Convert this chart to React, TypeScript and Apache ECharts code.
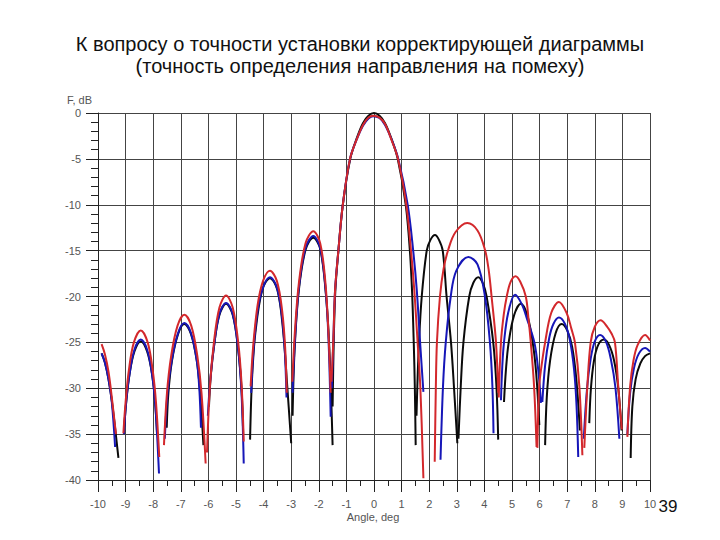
import React, { useEffect, useRef } from "react";
import * as echarts from "echarts";

const titleLines = [
  "К вопросу о точности установки корректирующей диаграммы",
  "(точность определения направления на помеху)",
];
const xTicks = [-10, -9, -8, -7, -6, -5, -4, -3, -2, -1, 0, 1, 2, 3, 4, 5, 6, 7, 8, 9, 10];
const yTicks = [0, -5, -10, -15, -20, -25, -30, -35, -40];

// Each series is a list of lobes; each lobe is a list of [angle, dB] points.
const blackLobes: number[][][] = [
  [[-9.87, -26.2], [-9.75, -27.2], [-9.62, -29.0], [-9.48, -31.8], [-9.26, -37.6]],
  [[-9.05, -34.2], [-8.97, -31.3], [-8.86, -28.5], [-8.68, -26.0], [-8.45, -24.9], [-8.22, -26.0], [-8.04, -28.5], [-7.93, -31.5], [-7.86, -35.0]],
  [[-7.51, -34.3], [-7.45, -30.5], [-7.32, -27.0], [-7.1, -24.1], [-6.87, -23.0], [-6.63, -24.1], [-6.42, -27.0], [-6.3, -30.5], [-6.18, -36.2]],
  [[-5.98, -32.0], [-5.91, -28.5], [-5.77, -24.8], [-5.6, -22.0], [-5.36, -20.8], [-5.12, -22.0], [-4.93, -25.5], [-4.8, -30.0], [-4.74, -35.0]],
  [[-4.49, -35.6], [-4.42, -29.0], [-4.3, -24.0], [-4.05, -19.3], [-3.77, -18.0], [-3.5, -19.3], [-3.3, -23.5], [-3.15, -29.5], [-3.0, -36.0]],
  [[-2.95, -33.0], [-2.88, -26.0], [-2.73, -19.5], [-2.48, -14.9], [-2.2, -13.6], [-1.95, -14.8], [-1.75, -19.5], [-1.62, -25.5], [-1.5, -36.2]],
  [[-1.5, -32.0], [-1.46, -25.0], [-1.4, -19.3], [-1.29, -15.0], [-1.13, -10.0], [-0.86, -5.0], [-0.62, -2.7], [-0.4, -1.1], [-0.2, -0.3], [0.0, 0.0], [0.2, -0.3], [0.4, -1.1], [0.62, -2.7], [0.86, -5.0], [1.15, -10.0], [1.3, -15.0], [1.38, -19.5], [1.44, -25.0], [1.48, -30.0], [1.51, -36.2]],
  [[1.54, -33.0], [1.57, -29.8], [1.63, -25.0], [1.73, -20.0], [1.91, -15.0], [2.05, -13.8], [2.21, -13.3], [2.35, -13.8], [2.49, -15.0], [2.63, -20.0], [2.79, -25.0], [2.9, -30.0], [3.02, -36.0]],
  [[3.06, -35.5], [3.14, -30.0], [3.24, -25.0], [3.45, -20.0], [3.6, -18.5], [3.78, -17.9], [3.95, -18.6], [4.08, -20.0], [4.32, -25.0], [4.44, -30.0], [4.5, -35.6]],
  [[4.71, -31.5], [4.78, -28.0], [4.88, -25.0], [5.08, -22.0], [5.32, -20.8], [5.55, -22.0], [5.75, -25.0], [5.88, -28.5], [5.99, -34.0]],
  [[6.2, -36.2], [6.26, -31.0], [6.38, -27.0], [6.58, -24.0], [6.8, -23.0], [7.0, -23.7], [7.18, -25.5], [7.33, -29.0], [7.46, -34.6]],
  [[7.8, -33.8], [7.86, -30.0], [7.97, -27.0], [8.12, -25.3], [8.33, -24.7], [8.52, -25.3], [8.7, -27.0], [8.85, -30.0], [8.97, -34.6]],
  [[9.3, -37.6], [9.36, -32.0], [9.48, -29.0], [9.65, -27.3], [9.82, -26.5], [10.0, -26.2]],
];

const blueLobes: number[][][] = [
  [[-9.87, -26.2], [-9.75, -27.2], [-9.62, -29.0], [-9.5, -31.5], [-9.38, -36.4]],
  [[-9.06, -35.0], [-8.98, -31.5], [-8.86, -28.5], [-8.68, -25.8], [-8.45, -24.7], [-8.22, -25.8], [-8.04, -28.5], [-7.92, -32.0], [-7.79, -39.3]],
  [[-7.58, -35.5], [-7.48, -30.5], [-7.33, -27.0], [-7.1, -24.0], [-6.87, -22.9], [-6.63, -24.0], [-6.42, -27.0], [-6.33, -30.0], [-6.27, -34.3]],
  [[-6.02, -33.0], [-5.93, -29.0], [-5.78, -25.0], [-5.6, -21.9], [-5.36, -20.7], [-5.12, -21.9], [-4.93, -25.5], [-4.8, -30.5], [-4.72, -38.2]],
  [[-4.45, -30.5], [-4.37, -26.0], [-4.22, -21.6], [-4.02, -19.0], [-3.77, -17.9], [-3.52, -19.0], [-3.34, -22.0], [-3.23, -26.0], [-3.17, -31.0]],
  [[-2.95, -30.5], [-2.86, -24.5], [-2.72, -19.0], [-2.48, -14.7], [-2.2, -13.4], [-1.95, -14.7], [-1.76, -19.0], [-1.65, -24.5], [-1.57, -33.1]],
  [[-1.53, -30.0], [-1.47, -24.5], [-1.41, -19.3], [-1.29, -15.0], [-1.13, -10.0], [-0.87, -5.0], [-0.63, -2.9], [-0.4, -1.4], [-0.2, -0.6], [-0.03, -0.35], [0.2, -0.55], [0.4, -1.3], [0.64, -2.9], [0.88, -5.0], [1.22, -10.0], [1.42, -15.0], [1.55, -19.3], [1.67, -25.0], [1.79, -30.4]],
  [[2.41, -37.8], [2.5, -29.8], [2.6, -25.0], [2.78, -20.0], [2.98, -17.2], [3.42, -15.7], [3.75, -16.5], [4.02, -20.0], [4.2, -25.0], [4.29, -29.8], [4.33, -34.9]],
  [[4.6, -31.3], [4.65, -27.5], [4.71, -25.0], [4.86, -21.8], [5.11, -19.8], [5.35, -20.8], [5.55, -22.5], [5.81, -25.0], [5.95, -28.0], [6.05, -31.6]],
  [[6.1, -31.5], [6.2, -27.5], [6.35, -24.5], [6.5, -23.0], [6.7, -22.3], [6.92, -23.0], [7.1, -24.8], [7.25, -28.0], [7.34, -32.0], [7.4, -37.5]],
  [[7.6, -35.5], [7.72, -30.0], [7.85, -26.8], [8.0, -24.9], [8.19, -24.2], [8.4, -24.9], [8.58, -26.8], [8.75, -30.0], [8.89, -35.5]],
  [[9.18, -35.0], [9.28, -30.5], [9.42, -27.8], [9.6, -26.2], [9.82, -25.6], [10.0, -26.0]],
];

const redLobes: number[][][] = [
  [[-9.87, -25.2], [-9.75, -26.3], [-9.62, -28.2], [-9.5, -31.0], [-9.35, -35.0]],
  [[-9.08, -34.9], [-9.0, -31.5], [-8.88, -28.0], [-8.7, -25.0], [-8.45, -23.7], [-8.2, -25.0], [-8.02, -28.0], [-7.9, -31.5], [-7.78, -37.5]],
  [[-7.61, -36.2], [-7.5, -30.5], [-7.35, -26.5], [-7.12, -23.2], [-6.87, -22.0], [-6.62, -23.2], [-6.4, -26.5], [-6.25, -30.5], [-6.1, -38.2]],
  [[-6.05, -37.0], [-5.95, -30.0], [-5.8, -25.0], [-5.6, -21.2], [-5.36, -19.9], [-5.12, -21.2], [-4.92, -25.0], [-4.8, -29.5], [-4.72, -35.8]],
  [[-4.47, -29.8], [-4.38, -25.5], [-4.22, -21.0], [-4.02, -18.3], [-3.77, -17.2], [-3.52, -18.3], [-3.33, -21.5], [-3.22, -25.5], [-3.16, -30.5]],
  [[-2.96, -29.3], [-2.87, -24.0], [-2.72, -18.5], [-2.48, -14.2], [-2.2, -12.9], [-1.95, -14.2], [-1.76, -18.5], [-1.65, -24.0], [-1.57, -30.5]],
  [[-1.54, -29.3], [-1.47, -24.5], [-1.41, -19.3], [-1.29, -15.0], [-1.13, -10.0], [-0.87, -5.0], [-0.63, -2.9], [-0.4, -1.3], [-0.2, -0.5], [-0.03, -0.3], [0.2, -0.5], [0.4, -1.2], [0.63, -2.9], [0.87, -5.0], [1.17, -10.0], [1.34, -15.0], [1.46, -19.3], [1.58, -25.0], [1.68, -30.0], [1.79, -39.8]],
  [[2.2, -38.0], [2.24, -30.0], [2.28, -25.0], [2.39, -20.0], [2.52, -17.0], [2.69, -14.9], [2.95, -13.0], [3.38, -12.0], [3.75, -12.8], [4.02, -14.9], [4.15, -17.0], [4.26, -20.0], [4.42, -25.0], [4.5, -30.5]],
  [[4.52, -31.0], [4.6, -25.0], [4.7, -22.0], [4.81, -20.0], [4.95, -18.4], [5.13, -17.8], [5.3, -18.4], [5.5, -20.0], [5.6, -22.5], [5.68, -25.0], [5.8, -29.8], [5.89, -36.4]],
  [[5.92, -36.5], [5.98, -30.0], [6.05, -28.0], [6.2, -25.0], [6.42, -21.8], [6.7, -20.6], [6.98, -21.8], [7.15, -23.5], [7.28, -25.0], [7.44, -29.8], [7.55, -37.3]],
  [[7.62, -36.5], [7.73, -29.8], [7.85, -25.0], [8.0, -23.3], [8.21, -22.6], [8.45, -23.3], [8.6, -24.0], [8.73, -25.0], [8.85, -29.8], [8.98, -34.5]],
  [[9.18, -35.3], [9.28, -29.8], [9.4, -27.0], [9.55, -25.3], [9.82, -24.2], [10.0, -24.8]],
];

const seriesColors = { black: "#0a0a0a", blue: "#1616b8", red: "#d3282c" };

function joinLobes(lobes: number[][][]): (number | null)[][] {
  const out: (number | null)[][] = [];
  lobes.forEach((lobe, i) => {
    if (i > 0) out.push([lobe[0][0], null]);
    lobe.forEach((p) => out.push(p));
  });
  return out;
}

const FONT = "Liberation Sans, Arial, sans-serif";

export default function App() {
  const ref = useRef<HTMLDivElement>(null);
  useEffect(() => {
    if (!ref.current) return;
    const chart = echarts.init(ref.current, null, { renderer: "svg" });
    const mkSeries = (name: string, lobes: number[][][], color: string) => ({
      name,
      type: "line",
      data: joinLobes(lobes),
      showSymbol: false,
      smooth: 0.35,
      connectNulls: false,
      lineStyle: { color, width: 2 },
      itemStyle: { color },
    });
    chart.setOption({
      animation: false,
      backgroundColor: "#ffffff",
      grid: { left: 98, right: 70, top: 113, bottom: 60, containLabel: false },
      xAxis: {
        type: "value",
        min: xTicks[0],
        max: xTicks[xTicks.length - 1],
        interval: 1,
        axisLine: { show: true, onZero: false, lineStyle: { color: "#222", width: 1 } },
        axisTick: { show: true, length: 12, lineStyle: { color: "#222" } },
        minorTick: { show: true, splitNumber: 2, length: 6, lineStyle: { color: "#222" } },
        splitLine: { show: true, lineStyle: { color: "#444", width: 1 } },
        axisLabel: { color: "#555", fontSize: 11, fontFamily: FONT, margin: 18 },
      },
      yAxis: {
        type: "value",
        min: yTicks[yTicks.length - 1],
        max: yTicks[0],
        interval: 5,
        axisLine: { show: true, onZero: false, lineStyle: { color: "#222", width: 1 } },
        axisTick: { show: true, length: 12, lineStyle: { color: "#222" } },
        minorTick: { show: true, splitNumber: 5, length: 7, lineStyle: { color: "#222" } },
        splitLine: { show: true, lineStyle: { color: "#444", width: 1 } },
        axisLabel: { color: "#555", fontSize: 11, fontFamily: FONT, margin: 17 },
      },
      series: [
        mkSeries("black", blackLobes, seriesColors.black),
        mkSeries("blue", blueLobes, seriesColors.blue),
        mkSeries("red", redLobes, seriesColors.red),
      ],
      graphic: [
        {
          type: "text",
          x: 360,
          y: 44,
          style: { text: titleLines[0], fontSize: 20, fontFamily: FONT, fill: "#111", align: "center", verticalAlign: "middle" },
        },
        {
          type: "text",
          x: 360,
          y: 66,
          style: { text: titleLines[1], fontSize: 20, fontFamily: FONT, fill: "#111", align: "center", verticalAlign: "middle" },
        },
        {
          type: "text",
          x: 67,
          y: 100,
          style: { text: "F, dB", fontSize: 11, fontFamily: FONT, fill: "#555", align: "left", verticalAlign: "middle" },
        },
        {
          type: "text",
          x: 373,
          y: 517,
          style: { text: "Angle, deg", fontSize: 11, fontFamily: FONT, fill: "#555", align: "center", verticalAlign: "middle" },
        },
        {
          type: "text",
          x: 668,
          y: 506,
          style: { text: "39", fontSize: 17, fontFamily: FONT, fill: "#111", align: "center", verticalAlign: "middle" },
        },
      ],
    });
    return () => chart.dispose();
  }, []);
  return <div ref={ref} style={{ width: 720, height: 540, position: "absolute", left: 0, top: 0 }} />;
}
